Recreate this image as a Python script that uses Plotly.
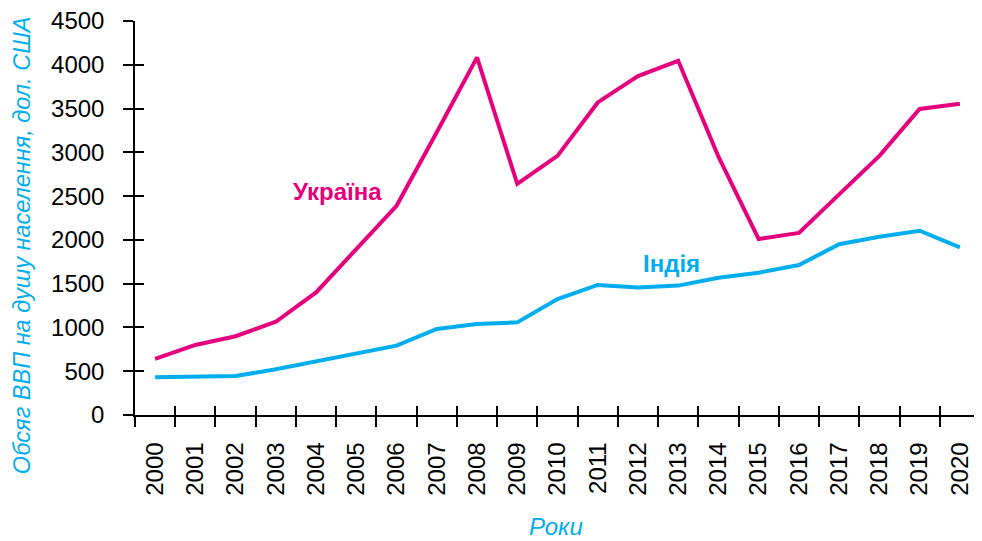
import plotly.graph_objects as go

years = [str(y) for y in range(2000, 2021)]
ukraine = [640, 800, 900, 1065, 1400, 1890, 2390, 3230, 4085, 2640, 2960,
           3570, 3870, 4045, 2950, 2010, 2080, 2520, 2960, 3495, 3555]
india = [430, 432, 445, 522, 610, 704, 792, 982, 1040, 1058, 1325,
         1485, 1455, 1478, 1568, 1625, 1713, 1950, 2036, 2105, 1915]
y_ticks = list(range(0, 4501, 500))

PINK = "#E6007E"
CYAN = "#00AEEF"
FONT = "Liberation Sans, Arial, sans-serif"

fig = go.Figure()
fig.add_trace(go.Scatter(x=years, y=ukraine, mode="lines", name="Україна",
                         line=dict(color=PINK, width=4), showlegend=False))
fig.add_trace(go.Scatter(x=years, y=india, mode="lines", name="Індія",
                         line=dict(color=CYAN, width=4), showlegend=False))
# invisible trace to anchor overlay axes (inside half of crossing ticks)
fig.add_trace(go.Scatter(x=[0], y=[0], xaxis="x2", yaxis="y2", mode="markers",
                         marker=dict(opacity=0), showlegend=False, hoverinfo="skip"))

n = len(years)
# page body has an 8px default margin, so the figure is sized to the remaining area
fig.update_layout(
    width=974, height=533,
    margin=dict(l=127, r=2, t=13, b=126, autoexpand=False),
    paper_bgcolor="white", plot_bgcolor="white",
    font=dict(family=FONT, color="black", size=24),
    xaxis=dict(type="category", range=[-0.5, n - 0.5], tickson="boundaries",
               ticks="outside", ticklen=10, tickwidth=1.5, tickcolor="black",
               showline=True, linecolor="black", linewidth=1.5, automargin=False,
               showgrid=False, zeroline=False, tickangle=-90,
               ticklabeloverflow="allow",
               tickfont=dict(size=24, family=FONT), ticklabelstandoff=16),
    yaxis=dict(range=[0, 4500], tickvals=y_ticks, ticks="outside", ticklen=10,
               tickwidth=1.5, tickcolor="black", showline=True, linecolor="black",
               linewidth=1.5, showgrid=False, zeroline=False, automargin=False,
               ticklabeloverflow="allow",
               tickfont=dict(size=24, family=FONT), ticklabelstandoff=14),
    xaxis2=dict(overlaying="x", range=[-0.5, n - 0.5], automargin=False,
                tickvals=[i - 0.5 for i in range(n + 1)], ticks="inside",
                ticklen=9, tickwidth=1.5, tickcolor="black", showticklabels=False,
                showgrid=False, zeroline=False, side="bottom", anchor="y2"),
    yaxis2=dict(overlaying="y", range=[0, 4500], tickvals=y_ticks, ticks="inside",
                ticklen=9, tickwidth=1.5, tickcolor="black", showticklabels=False,
                showgrid=False, zeroline=False, side="left", anchor="x2",
                automargin=False),
    annotations=[
        dict(text="<b>Україна</b>", x=4.52, y=2550, xref="x", yref="y", showarrow=False,
             xanchor="center", yanchor="middle",
             font=dict(size=24, color=PINK, family=FONT)),
        dict(text="<b>Індія</b>", x=12.84, y=1736, xref="x", yref="y", showarrow=False,
             xanchor="center", yanchor="middle",
             font=dict(size=24, color=CYAN, family=FONT)),
        dict(text="<i>Обсяг ВВП на душу населення, дол. США</i>", x=-0.1345, y=0.432,
             xref="paper", yref="paper", textangle=-90, showarrow=False,
             xanchor="center", yanchor="middle",
             font=dict(size=23.5, color=CYAN, family=FONT)),
        dict(text="<i>Роки</i>", x=0.498, y=-0.284, xref="paper", yref="paper",
             xanchor="center", yanchor="middle",
             showarrow=False, font=dict(size=24, color=CYAN, family=FONT)),
    ],
)

fig.write_html("out.html")
